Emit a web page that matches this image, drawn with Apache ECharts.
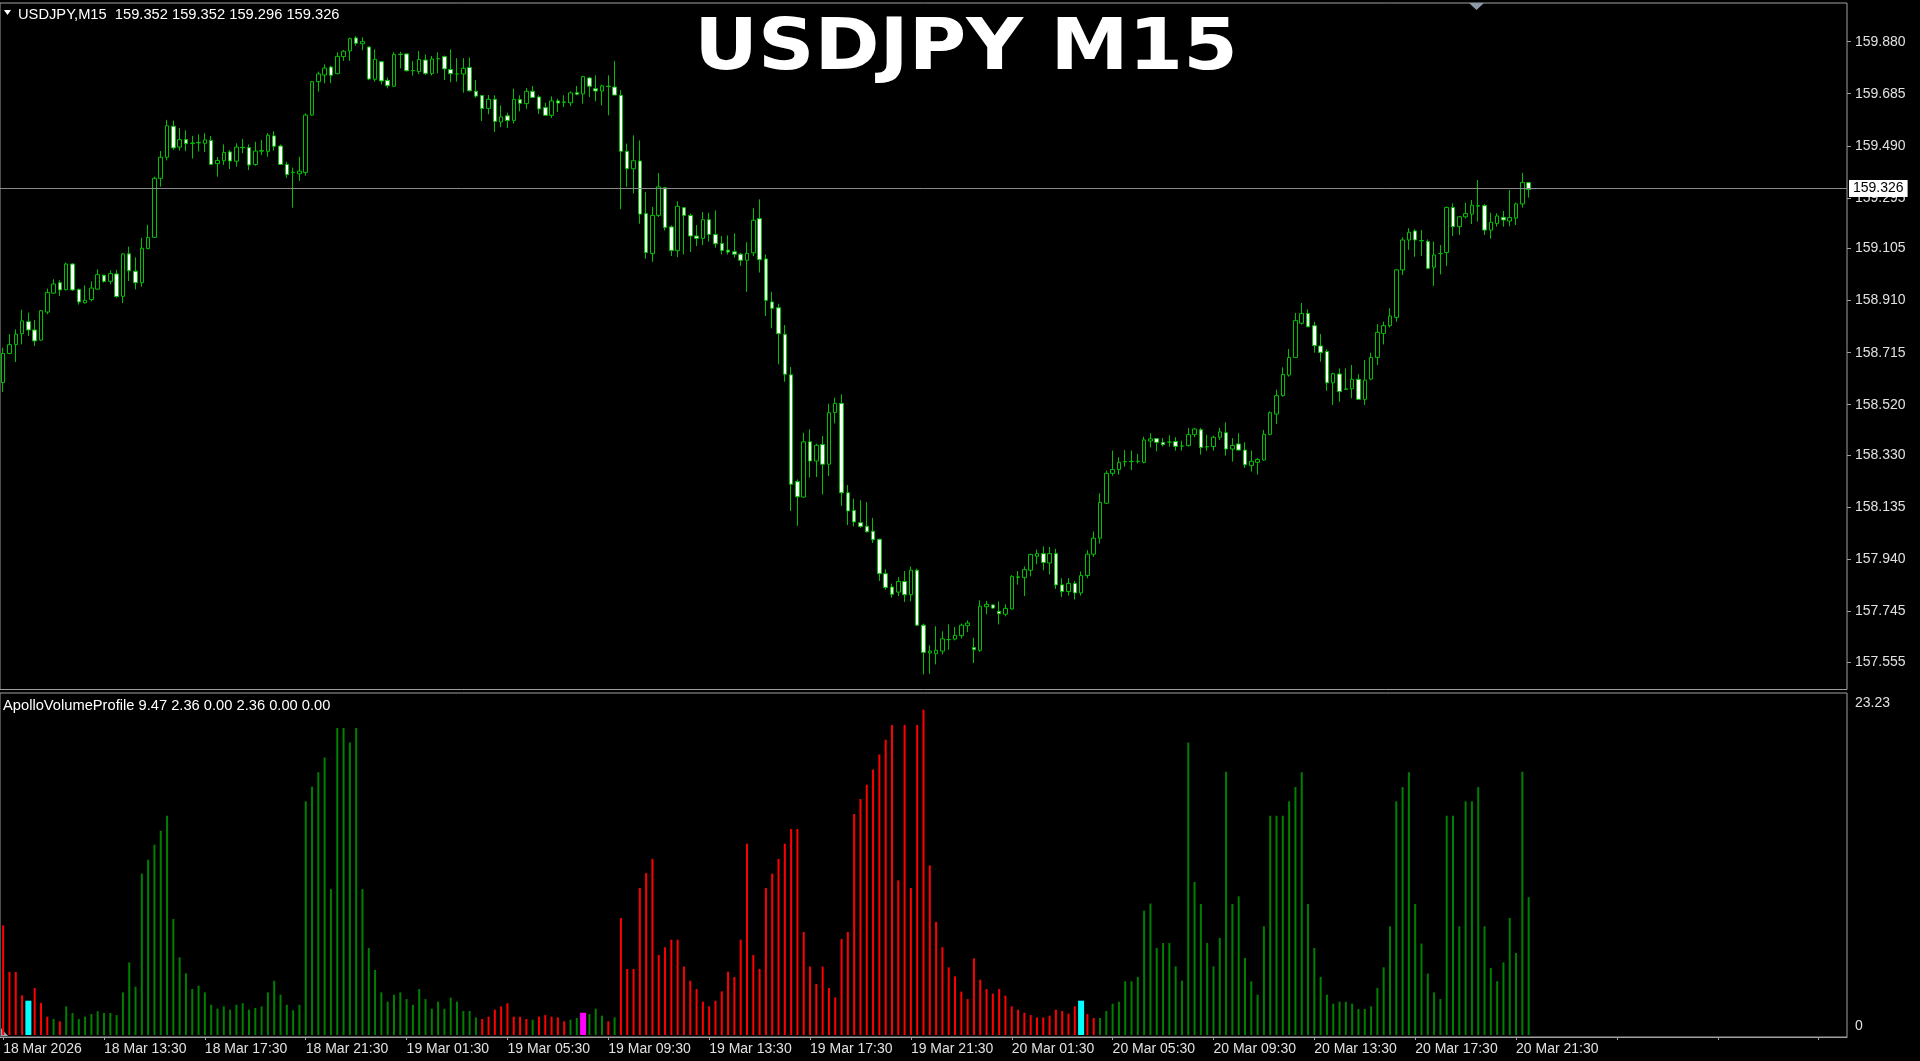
<!DOCTYPE html>
<html><head><meta charset="utf-8">
<script src="https://cdn.jsdelivr.net/npm/echarts@6/dist/echarts.min.js"></script>
<style>html,body{margin:0;padding:0;background:#000;overflow:hidden}#chart{width:1920px;height:1061px}</style>
</head><body><div id="chart"></div>
<script>
const symbolTitle = 'USDJPY M15';
const headerSymbol = 'USDJPY,M15';
const indicatorName = 'ApolloVolumeProfile';
const indicatorBuffers = [9.47, 2.36, 0.00, 2.36, 0.00, 0.00];
const timeLabels = ['18 Mar 2026','18 Mar 13:30','18 Mar 17:30','18 Mar 21:30','19 Mar 01:30','19 Mar 05:30','19 Mar 09:30','19 Mar 13:30','19 Mar 17:30','19 Mar 21:30','20 Mar 01:30','20 Mar 05:30','20 Mar 09:30','20 Mar 13:30','20 Mar 17:30','20 Mar 21:30'];
const priceTickLabels = [157.555,157.745,157.940,158.135,158.330,158.520,158.715,158.910,159.105,159.295,159.490,159.685,159.880];
const volumeTickLabels = [0, 23.23];

const candleOpen = [
158.603,158.712,158.745,158.786,158.831,158.800,158.762,158.867,158.938,158.977,
158.951,159.047,158.952,158.902,158.914,158.953,159.005,158.982,159.010,158.926,
159.085,159.020,158.977,159.105,159.147,159.368,159.447,159.563,159.485,159.513,
159.500,159.502,159.499,159.510,159.423,159.434,159.467,159.432,159.484,159.483,
159.420,159.471,159.469,159.527,159.489,159.420,159.391,159.385,159.390,159.605,
159.730,159.755,159.785,159.760,159.824,159.845,159.894,159.872,159.860,159.739,
159.805,159.735,159.713,159.833,159.834,159.772,159.768,159.811,159.761,159.816,
159.824,159.776,159.759,159.759,159.783,159.694,159.678,159.630,159.664,159.579,
159.602,159.585,159.663,159.648,159.694,159.673,159.633,159.604,159.658,159.654,
159.651,159.689,159.684,159.744,159.704,159.695,159.713,159.710,159.679,159.469,
159.404,159.433,159.236,159.086,159.229,159.333,159.186,159.097,159.258,159.229,
159.152,159.143,159.213,159.158,159.124,159.099,159.093,159.084,159.061,159.089,
159.217,159.066,158.905,158.883,158.784,158.632,158.232,158.174,158.381,158.309,
158.371,158.297,158.491,158.525,158.190,158.124,158.078,158.065,158.046,158.016,
157.887,157.837,157.818,157.858,157.808,157.900,157.694,157.590,157.587,157.597,
157.640,157.642,157.655,157.692,157.610,157.600,157.763,157.770,157.746,157.735,
157.755,157.875,157.872,157.900,157.952,157.962,157.927,157.962,157.845,157.820,
157.850,157.815,157.880,157.960,158.020,158.151,158.263,158.277,158.306,158.307,
158.308,158.304,158.384,158.393,158.379,158.380,158.382,158.365,158.367,158.408,
158.426,158.362,158.363,158.398,158.415,158.354,158.373,158.350,158.292,158.304,
158.313,158.409,158.485,158.554,158.631,158.697,158.825,158.862,158.816,158.740,
158.719,158.602,158.635,158.579,158.580,158.615,158.540,158.616,158.697,158.787,
158.816,158.847,159.025,159.137,159.171,159.135,159.131,159.035,159.086,159.090,
159.259,159.187,159.224,159.234,159.265,159.266,159.174,159.199,159.222,159.208,
159.219,159.272,159.352];
const candleClose = [
158.712,158.745,158.784,158.834,158.800,158.759,158.872,158.940,158.972,158.950,
159.047,158.950,158.905,158.911,158.957,159.007,158.982,159.011,158.925,159.085,
159.022,158.977,159.106,159.146,159.368,159.447,159.565,159.482,159.513,159.498,
159.499,159.501,159.512,159.420,159.435,159.465,159.433,159.485,159.483,159.418,
159.470,159.470,159.529,159.488,159.420,159.382,159.390,159.395,159.605,159.730,
159.759,159.781,159.754,159.825,159.844,159.891,159.874,159.880,159.740,159.814,
159.733,159.715,159.832,159.832,159.771,159.771,159.813,159.761,159.815,159.816,
159.778,159.760,159.759,159.780,159.696,159.676,159.630,159.664,159.581,159.598,
159.585,159.664,159.649,159.694,159.671,159.628,159.604,159.658,159.650,159.653,
159.688,159.683,159.749,159.713,159.695,159.714,159.712,159.680,159.469,159.404,
159.434,159.234,159.090,159.229,159.336,159.184,159.098,159.263,159.229,159.152,
159.143,159.213,159.158,159.123,159.098,159.092,159.084,159.061,159.087,159.211,
159.063,158.911,158.881,158.786,158.634,158.222,158.175,158.381,158.309,158.368,
158.297,158.490,158.525,158.190,158.122,158.081,158.064,158.044,158.014,157.887,
157.835,157.810,157.858,157.808,157.900,157.694,157.592,157.597,157.600,157.643,
157.640,157.656,157.694,157.702,157.602,157.765,157.772,157.758,157.737,157.757,
157.877,157.874,157.902,157.959,157.962,157.929,157.962,157.845,157.820,157.850,
157.815,157.880,157.960,158.020,158.154,158.263,158.277,158.304,158.307,158.308,
158.308,158.388,158.392,158.379,158.370,158.380,158.364,158.365,158.408,158.429,
158.360,158.363,158.398,158.418,158.354,158.367,158.350,158.295,158.308,158.315,
158.409,158.490,158.554,158.633,158.697,158.835,158.862,158.812,158.741,158.716,
158.602,158.636,158.569,158.578,158.615,158.540,158.612,158.697,158.791,158.816,
158.852,159.025,159.137,159.166,159.137,159.134,159.031,159.081,159.086,159.259,
159.187,159.224,159.236,159.267,159.264,159.174,159.203,159.227,159.212,159.221,
159.272,159.353,159.326];
const candleLow = [
158.568,158.709,158.680,158.746,158.777,158.740,158.760,158.859,158.936,158.927,
158.948,158.946,158.895,158.899,158.907,158.951,158.977,158.971,158.921,158.900,
158.983,158.952,158.962,159.102,159.145,159.337,159.435,159.475,159.472,159.470,
159.442,159.469,159.467,159.418,159.374,159.418,159.403,159.412,159.462,159.399,
159.415,159.455,159.449,159.472,159.418,159.370,159.258,159.358,159.378,159.603,
159.693,159.724,159.724,159.758,159.808,159.808,159.865,159.848,159.736,159.730,
159.720,159.705,159.710,159.780,159.768,159.753,159.758,159.755,159.753,159.761,
159.736,159.728,159.730,159.689,159.693,159.670,159.583,159.608,159.542,159.560,
159.557,159.573,159.619,159.629,159.669,159.609,159.602,159.594,159.617,159.635,
159.639,159.679,159.648,159.673,159.657,159.641,159.604,159.679,159.252,159.336,
159.311,159.198,159.067,159.055,159.223,159.173,159.077,159.073,159.083,159.092,
159.114,159.118,159.131,159.108,159.083,159.083,159.071,159.040,158.943,159.077,
159.015,158.852,158.806,158.671,158.606,158.122,158.066,158.172,158.247,158.249,
158.184,158.253,158.450,158.141,158.069,158.064,158.059,158.041,158.002,157.860,
157.827,157.797,157.803,157.781,157.783,157.691,157.510,157.512,157.547,157.585,
157.602,157.637,157.644,157.668,157.552,157.594,157.735,157.756,157.697,157.727,
157.752,157.846,157.803,157.877,157.922,157.900,157.884,157.830,157.800,157.805,
157.790,157.805,157.870,157.950,158.000,158.148,158.254,158.258,158.288,158.275,
158.300,158.300,158.360,158.345,158.363,158.363,158.348,158.348,158.363,158.398,
158.333,158.348,158.348,158.388,158.329,158.307,158.348,158.283,158.270,158.258,
158.310,158.405,158.448,158.550,158.625,158.695,158.820,158.810,158.715,158.681,
158.572,158.519,158.531,158.575,158.544,158.538,158.519,158.612,158.669,158.746,
158.809,158.831,159.006,159.100,159.074,159.077,159.027,158.965,159.008,159.040,
159.152,159.156,159.218,159.197,159.206,159.156,159.142,159.187,159.187,159.189,
159.193,159.258,159.296];
const candleHigh = [
158.734,158.784,158.802,158.875,158.865,158.837,158.875,158.955,158.990,158.986,
159.052,159.050,158.955,158.967,158.982,159.027,159.007,159.023,159.025,159.087,
159.112,159.072,159.145,159.194,159.374,159.470,159.587,159.584,159.557,159.548,
159.527,159.533,159.537,159.527,159.448,159.495,159.474,159.499,159.515,159.495,
159.505,159.512,159.537,159.545,159.495,159.430,159.408,159.449,159.611,159.733,
159.768,159.795,159.790,159.840,159.849,159.895,159.901,159.896,159.862,159.851,
159.808,159.745,159.840,159.842,159.836,159.808,159.845,159.832,159.826,159.840,
159.828,159.851,159.818,159.818,159.820,159.736,159.680,159.680,159.679,159.641,
159.614,159.704,159.679,159.706,159.714,159.679,159.651,159.675,159.666,159.679,
159.694,159.714,159.751,159.748,159.754,159.719,159.754,159.808,159.698,159.498,
159.529,159.510,159.317,159.261,159.388,159.336,159.192,159.282,159.261,159.236,
159.193,159.242,159.239,159.248,159.152,159.154,159.162,159.089,159.129,159.256,
159.289,159.083,158.943,158.898,158.818,158.661,158.240,158.415,158.428,158.374,
158.403,158.524,158.546,158.559,158.219,158.168,158.162,158.155,158.096,158.018,
157.903,157.850,157.874,157.897,157.914,157.906,157.700,157.619,157.690,157.671,
157.697,157.687,157.700,157.712,157.647,157.787,157.785,157.772,157.783,157.772,
157.881,157.897,157.914,157.962,157.977,157.989,157.987,157.980,157.870,157.870,
157.860,157.895,157.975,158.045,158.188,158.273,158.348,158.323,158.350,158.348,
158.335,158.400,158.413,158.395,158.395,158.405,158.398,158.385,158.433,158.433,
158.433,158.407,158.404,158.433,158.454,158.395,158.413,158.379,158.348,158.320,
158.425,158.495,158.576,158.660,158.729,158.864,158.901,158.877,158.831,158.785,
158.727,158.640,158.656,158.656,158.669,158.634,158.687,158.715,158.822,158.831,
158.881,159.027,159.147,159.181,159.177,159.174,159.139,159.131,159.118,159.262,
159.274,159.227,159.277,159.287,159.362,159.272,159.239,159.237,159.246,159.324,
159.277,159.389,159.352];

const volumeValues = [
7.54,4.33,4.33,2.73,2.36,3.23,2.20,1.26,1.10,0.94,
1.97,1.51,1.10,1.26,1.44,1.63,1.51,1.51,1.37,2.93,
4.99,3.32,11.09,12.05,13.08,14.04,15.07,7.97,5.34,4.24,
3.16,3.39,2.93,2.08,1.81,1.97,1.74,2.08,2.18,1.74,
1.86,1.97,2.93,3.73,2.77,2.08,1.70,2.08,16.06,17.07,
18.05,19.08,10.03,21.10,21.10,20.11,21.10,10.03,5.98,4.47,
2.93,2.29,2.77,2.93,2.47,2.08,3.16,2.47,1.81,2.29,
1.81,2.57,2.29,1.65,1.65,1.21,1.10,1.26,1.74,1.97,
2.18,1.26,1.26,1.10,1.05,1.26,1.37,1.26,1.21,0.94,
1.05,1.17,1.53,1.44,1.81,1.33,0.94,1.21,8.04,4.54,
4.54,10.10,11.13,12.10,5.50,6.03,6.55,6.55,4.70,3.73,
3.16,2.29,1.97,2.36,3.00,4.35,3.99,6.55,13.15,5.50,
4.54,10.10,11.09,12.10,13.15,14.16,14.16,7.08,4.70,3.51,
4.70,3.23,2.59,6.60,7.08,15.19,16.22,17.20,18.24,19.27,
20.30,21.31,10.63,21.31,10.10,21.31,22.36,11.66,7.77,6.03,
4.65,4.03,2.98,2.47,5.27,3.80,3.16,2.84,3.16,2.70,
1.97,1.74,1.53,1.37,1.21,1.21,1.33,1.74,1.65,1.47,
1.97,2.36,1.44,1.17,1.17,1.65,2.15,2.29,3.69,3.69,
3.99,8.55,9.03,5.98,6.32,6.32,4.72,3.73,20.11,10.52,
9.00,6.32,4.72,6.67,18.10,9.00,9.53,5.29,3.69,2.77,
7.47,15.07,15.07,15.07,16.06,17.04,18.05,9.00,5.98,3.99,
2.77,2.15,2.29,2.29,2.15,1.79,1.79,1.97,3.23,4.65,
7.47,16.06,17.04,18.05,9.00,6.28,4.22,2.93,2.47,15.07,
15.07,7.47,16.06,16.06,17.04,7.47,4.60,3.69,4.99,8.04,
5.64,18.10,9.47];
// r = red, g = green, c = cyan, m = magenta (one code per bar)
const volumeColorCodes = 'rrrrcrrrgr' + 'g'.repeat(66) + 'rrrrrrrr' + 'g' + 'rrrrr' + 'gg' + 'm' + 'ggg' + 'r' + 'g' + 'r'.repeat(73) + 'c' + 'rr' + 'g'.repeat(69);

const SLOT_COUNT = 293;
const slots = [];
for (let i = 0; i < SLOT_COUNT; i++) slots.push(String(i));

const candleData = candleOpen.map((o, i) => [o, candleClose[i], candleLow[i], candleHigh[i]]);
const colorMap = { r: '#ff0000', g: '#008000', c: '#00ffff', m: '#ff00ff' };
const thinBars = volumeValues.map((v, i) => {
  const c = volumeColorCodes[i];
  return (c === 'c' || c === 'm') ? '-' : { value: v, itemStyle: { color: colorMap[c] } };
});
const wideBars = volumeValues.map((v, i) => {
  const c = volumeColorCodes[i];
  return (c === 'c' || c === 'm') ? { value: v, itemStyle: { color: colorMap[c] } } : '-';
});
const last = candleData.length - 1;
const lastClose = candleClose[last];
const headerText = headerSymbol + '  ' + [candleOpen[last], candleHigh[last], candleLow[last], candleClose[last]].map(v => v.toFixed(3)).join(' ');
const indicatorText = indicatorName + ' ' + indicatorBuffers.map(v => v.toFixed(2)).join(' ');

const FONT = 'Liberation Sans';
const frameColor = '#a0a0a0';
const labelColor = '#e0e0e0';

const chart = echarts.init(document.getElementById('chart'), null, { renderer: 'canvas' });
chart.setOption({
  backgroundColor: '#000000',
  animation: false,
  textStyle: { fontFamily: FONT },
  grid: [
    { left: 0, right: 73, top: 3, bottom: 371.5, show: true, borderColor: frameColor, borderWidth: 1, backgroundColor: 'transparent' },
    { left: 0, right: 73, top: 693, bottom: 24, show: true, borderColor: frameColor, borderWidth: 1, backgroundColor: 'transparent' }
  ],
  xAxis: [
    { type: 'category', gridIndex: 0, data: slots, boundaryGap: true, axisLine: { show: false }, axisTick: { show: false }, axisLabel: { show: false }, splitLine: { show: false } },
    { type: 'category', gridIndex: 1, data: slots, boundaryGap: true,
      axisLine: { show: true, onZero: false, lineStyle: { color: frameColor } },
      axisTick: { show: true, interval: 15, alignWithLabel: true, length: 3, lineStyle: { color: frameColor } },
      axisLabel: { show: true, interval: 15, align: 'left', color: labelColor, fontSize: 14, fontFamily: FONT, margin: 5,
        formatter: (v, idx) => (idx % 16 === 0 && timeLabels[idx / 16]) ? timeLabels[idx / 16] : '' },
      splitLine: { show: false } },
    { type: 'category', gridIndex: 1, data: slots, boundaryGap: true, show: false }
  ],
  yAxis: [
    { type: 'value', gridIndex: 0, position: 'right', min: 157.4531, max: 160.0248, scale: true,
      axisLine: { show: false }, splitLine: { show: false },
      axisTick: { show: true, customValues: priceTickLabels, length: 4, lineStyle: { color: frameColor } },
      axisLabel: { show: true, customValues: priceTickLabels, formatter: v => Number(v).toFixed(3), color: labelColor, fontSize: 14, fontFamily: FONT, margin: 8 } },
    { type: 'value', gridIndex: 1, position: 'right', min: -0.137, max: 23.505,
      axisLine: { show: false }, splitLine: { show: false }, axisTick: { show: false },
      axisLabel: { show: true, customValues: volumeTickLabels, margin: 8,
        formatter: v => (Number(v) === 0 ? '{b|0}' : '{t|' + Number(v).toFixed(2) + '}'),
        rich: {
          t: { color: labelColor, fontSize: 14, fontFamily: FONT, padding: [12, 0, 0, 0] },
          b: { color: labelColor, fontSize: 14, fontFamily: FONT, padding: [0, 0, 18, 0] }
        } } }
  ],
  series: [
    { type: 'candlestick', xAxisIndex: 0, yAxisIndex: 0, data: candleData, barWidth: 4,
      itemStyle: { color: '#000000', color0: '#ffffff', borderColor: '#00c000', borderColor0: '#00c000', borderWidth: 1 },
      markLine: { silent: true, symbol: ['none', 'none'], animation: false,
        data: [{ yAxis: lastClose }],
        lineStyle: { color: '#8a8a8a', width: 1, type: 'solid' },
        label: { show: true, position: 'end', distance: 2, formatter: lastClose.toFixed(3), backgroundColor: '#ffffff', color: '#000000', fontSize: 14, fontFamily: FONT, padding: [2, 4, 1, 4] } } },
    { type: 'bar', xAxisIndex: 1, yAxisIndex: 1, data: thinBars, barWidth: 2 },
    { type: 'bar', xAxisIndex: 2, yAxisIndex: 1, data: wideBars, barWidth: 6 }
  ],
  graphic: [
    { type: 'polygon', silent: true, shape: { points: [[4, 10], [11, 10], [7.5, 15]] }, style: { fill: '#ffffff' } },
    { type: 'text', silent: true, x: 18, y: 15, style: { text: headerText, fill: '#ffffff', fontSize: 14.7, fontFamily: FONT, verticalAlign: 'middle' } },
    { type: 'text', silent: true, x: 966, y: 50, scaleX: 1.09, style: { text: symbolTitle, fill: '#ffffff', fontSize: 72, fontWeight: 'bold', fontFamily: 'DejaVu Sans', align: 'center', verticalAlign: 'middle' } },
    { type: 'text', silent: true, x: 3, y: 706, style: { text: indicatorText, fill: '#ffffff', fontSize: 14.7, fontFamily: FONT, verticalAlign: 'middle' } },
    { type: 'polygon', silent: true, shape: { points: [[1469, 3], [1484, 3], [1476.5, 10]] }, style: { fill: '#8c9aa8' } },
    { type: 'polygon', silent: true, shape: { points: [[1, 1028], [1, 1036], [8, 1036]] }, style: { fill: '#9aa4ae' } }
  ]
});
</script>
</body></html>
